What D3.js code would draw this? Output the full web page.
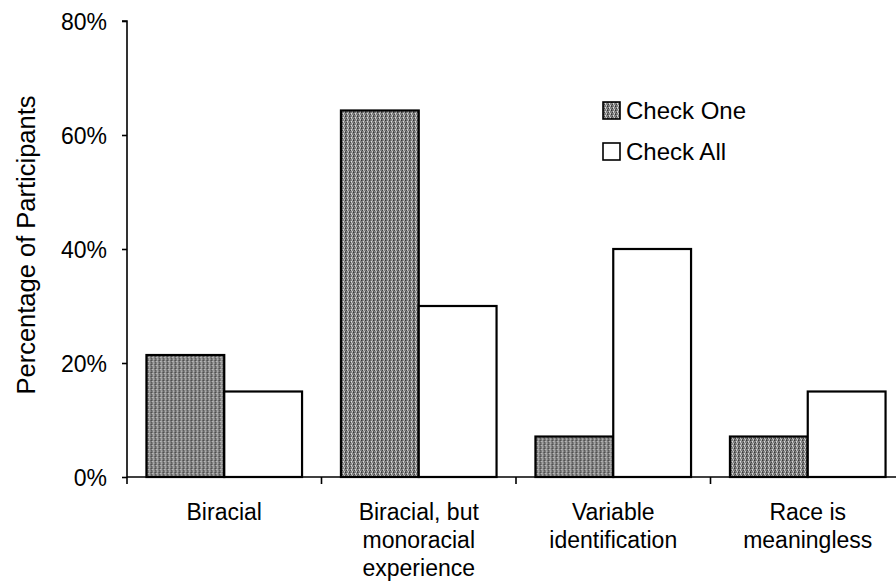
<!DOCTYPE html>
<html lang="en">
<head>
    <meta charset="UTF-8">
    <title>Percentage of Participants</title>
    <script src="https://cdn.jsdelivr.net/npm/d3@7"></script>
    <style>
        body {
            margin: 0;
            background-color: #fff;
        }
        svg text {
            font-family: "Liberation Sans", Arial, sans-serif;
            fill: #000;
        }
    </style>
</head>
<body>
    <script>
        const categories = [
            ['Biracial'],
            ['Biracial, but', 'monoracial', 'experience'],
            ['Variable', 'identification'],
            ['Race is', 'meaningless']
        ];
        const seriesNames = ['Check One', 'Check All'];
        const checkOne = [21.4, 64.3, 7.1, 7.1];
        const checkAll = [15, 30, 40, 15];
        const yTicks = [0, 20, 40, 60, 80];

        const w = 896;
        const h = 582;
        const plotLeft = 127;
        const plotTop = 21;
        const plotBottom = 477;

        const svg = d3.select('body')
            .append('svg')
            .attr('width', w)
            .attr('height', h);

        // stipple fill for the grey bars
        const pat = svg.append('defs').append('pattern')
            .attr('id', 'stipple')
            .attr('patternUnits', 'userSpaceOnUse')
            .attr('width', 4)
            .attr('height', 4);
        pat.append('rect').attr('width', 4).attr('height', 4).attr('fill', '#808080');
        [[0, 0, '#333'], [2, 1, '#e0e0e0'], [1, 2, '#3c3c3c'], [3, 3, '#d0d0d0'], [3, 0, '#a8a8a8'], [0, 3, '#555'], [2, 2, '#bdbdbd'], [1, 0, '#666']]
            .forEach(p => pat.append('rect').attr('x', p[0]).attr('y', p[1])
                .attr('width', 1).attr('height', 1).attr('fill', p[2]));

        const keys = categories.map((c, i) => i);

        const x0 = d3.scaleBand()
            .domain(keys)
            .range([plotLeft, plotLeft + 4 * 194.5])
            .paddingInner(0.2)
            .paddingOuter(0.1);

        const x1 = d3.scaleBand()
            .domain(seriesNames)
            .range([0, x0.bandwidth()]);

        const y = d3.scaleLinear()
            .domain([0, 80])
            .range([plotBottom, plotTop]);

        const fills = { 'Check One': 'url(#stipple)', 'Check All': '#fff' };
        const values = { 'Check One': checkOne, 'Check All': checkAll };

        const groups = svg.append('g').selectAll('g')
            .data(keys)
            .enter()
            .append('g')
            .attr('transform', d => `translate(${x0(d)},0)`);

        groups.selectAll('rect')
            .data(d => seriesNames.map(s => ({ s, v: values[s][d] })))
            .enter()
            .append('rect')
            .attr('x', d => x1(d.s))
            .attr('y', d => y(d.v))
            .attr('width', x1.bandwidth())
            .attr('height', d => y(0) - y(d.v))
            .attr('fill', d => fills[d.s])
            .attr('stroke', '#000')
            .attr('stroke-width', 2.2);

        // y axis
        const yAxis = d3.axisLeft(y)
            .tickValues(yTicks)
            .tickSize(5)
            .tickPadding(15)
            .tickFormat(d => d + '%');
        const ya = svg.append('g')
            .attr('transform', `translate(${plotLeft},0)`)
            .call(yAxis);
        ya.select('.domain').attr('stroke', '#000').attr('stroke-width', 1.6)
            .attr('d', `M-5,${plotTop}H0V${plotBottom}`);
        ya.selectAll('.tick line').attr('stroke', '#000').attr('stroke-width', 1.6);
        ya.selectAll('.tick text')
            .style('font-size', '23px')
            .attr('dy', '0.35em');

        // x axis: ticks at category boundaries
        const step = x0.step();
        const bounds = d3.range(4).map(i => plotLeft + i * step);
        svg.append('line')
            .attr('x1', plotLeft).attr('x2', w)
            .attr('y1', plotBottom).attr('y2', plotBottom)
            .attr('stroke', '#000').attr('stroke-width', 1.6);
        svg.append('g').selectAll('line')
            .data(bounds)
            .enter()
            .append('line')
            .attr('x1', d => d).attr('x2', d => d)
            .attr('y1', plotBottom).attr('y2', plotBottom + 7)
            .attr('stroke', '#000').attr('stroke-width', 1.6);

        const labels = svg.append('g').selectAll('text')
            .data(keys)
            .enter()
            .append('text')
            .attr('text-anchor', 'middle')
            .attr('x', d => x0(d) + x0.bandwidth() / 2)
            .attr('y', 520)
            .style('font-size', '23px');
        labels.selectAll('tspan')
            .data(d => categories[d])
            .enter()
            .append('tspan')
            .attr('x', function () { return d3.select(this.parentNode).attr('x'); })
            .attr('dy', (d, i) => i === 0 ? 0 : 28)
            .text(d => d);

        // y axis title
        svg.append('text')
            .attr('transform', `translate(35,245) rotate(-90)`)
            .attr('text-anchor', 'middle')
            .style('font-size', '25.5px')
            .text('Percentage of Participants');

        // legend
        const legend = svg.append('g').attr('transform', 'translate(603,102)');
        seriesNames.forEach((s, i) => {
            legend.append('rect')
                .attr('x', 0)
                .attr('y', i * 41)
                .attr('width', 17)
                .attr('height', 17)
                .attr('fill', fills[s])
                .attr('stroke', '#000')
                .attr('stroke-width', 1.6);
            legend.append('text')
                .attr('x', 23)
                .attr('y', i * 41 + 17)
                .style('font-size', '24px')
                .text(s);
        });
    </script>
</body>
</html>
